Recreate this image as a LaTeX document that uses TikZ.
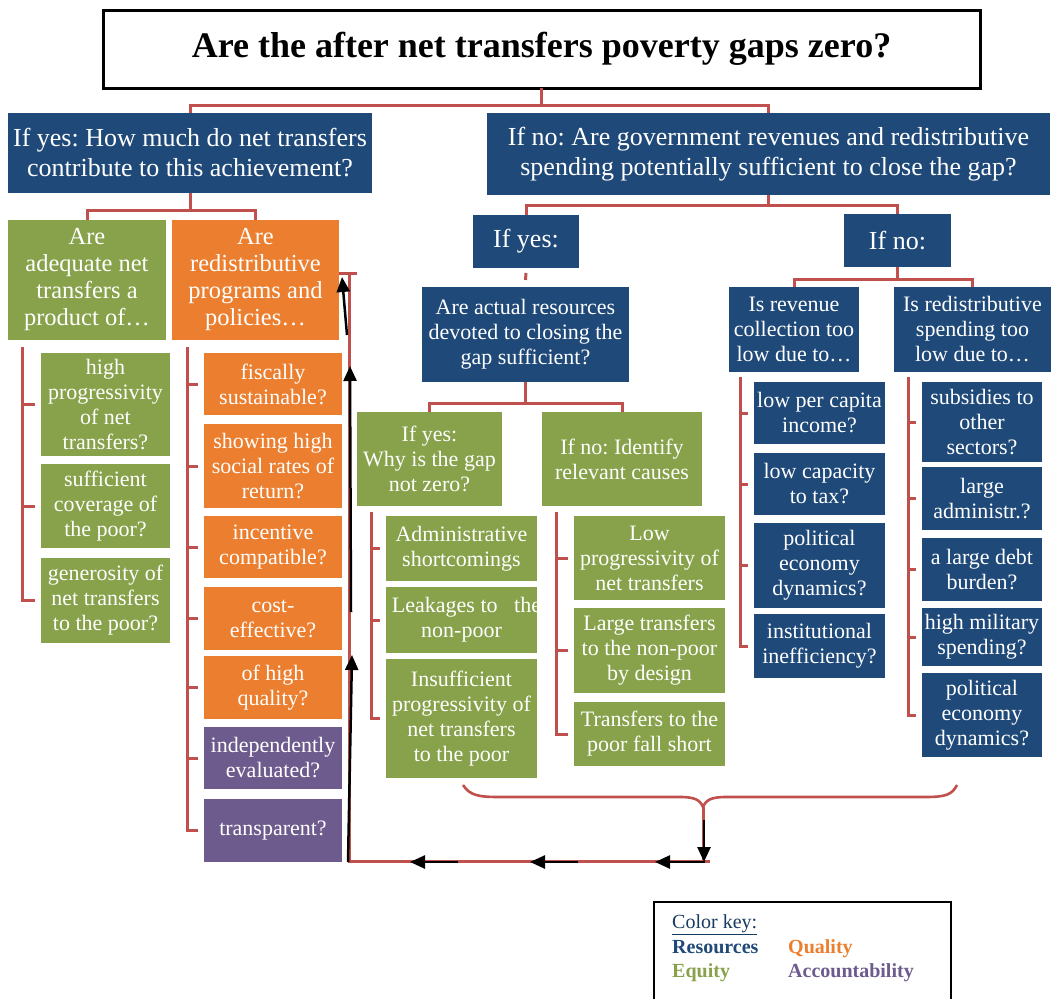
\documentclass[tikz,border=0pt]{standalone}
\usepackage{fontspec}
\setmainfont{Liberation Serif}
\usetikzlibrary{arrows.meta,calc}
\definecolor{navy}{HTML}{1F4978}
\definecolor{grn}{HTML}{87A24A}
\definecolor{orn}{HTML}{EC7F2F}
\definecolor{pur}{HTML}{6E5B8D}
\definecolor{redc}{HTML}{C0504D}
\newcommand\bx[7]{%
  \pgfmathsetmacro\bxw{#4-#2}\pgfmathsetmacro\bxh{#5-#3}%
  \node[#6, minimum width=\bxw pt, minimum height=\bxh pt] (#1) at ({(#2+#4)/2},{(#3+#5)/2}) {};
  \node[#6, fill=none, draw=none, minimum width=0pt, minimum height=0pt] (#1t) at (#1.center) {#7};}
\newcommand\lst[3]{%
  \draw[conn] (#1) |- ($(#2.west)+(-6,0)$);
  \foreach \n in {#3} {\draw[conn] (#1 |- \n.west) -- ($(\n.west)+(-6,0)$);}}
\tikzset{
  box/.style={inner sep=0pt, outer sep=0pt, align=center, text=white, draw=none},
  bigbl/.style={box, fill=navy, font=\fontsize{26}{30}\selectfont},
  midbl/.style={box, fill=navy, font=\fontsize{22}{25}\selectfont},
  bl/.style={box, fill=navy, font=\fontsize{22}{25}\selectfont},
  gr/.style={box, fill=grn, font=\fontsize{22}{25}\selectfont},
  grbig/.style={box, fill=grn, font=\fontsize{24.5}{27}\selectfont},
  orbig/.style={box, fill=orn, font=\fontsize{24.5}{27}\selectfont},
  or/.style={box, fill=orn, font=\fontsize{22}{25}\selectfont},
  pu/.style={box, fill=pur, font=\fontsize{22}{25}\selectfont},
  titlebox/.style={inner sep=0pt, outer sep=0pt, align=center, draw=black, line width=3pt, fill=white, font=\fontsize{36}{40}\selectfont\bfseries},
  conn/.style={draw=redc, line width=3pt},
  blk/.style={draw=black, line width=2.5pt, -{Triangle[length=15pt,width=13pt]}},
  keyt/.style={anchor=base west, inner sep=0pt, font=\fontsize{20}{23}\selectfont\bfseries},
}
\begin{document}
\frenchspacing
\begin{tikzpicture}[x=1pt,y=-1pt]
\path[use as bounding box, clip] (0,0) rectangle (1053,999);
\fill[white] (0,0) rectangle (1053,999);

% title
\node[titlebox, minimum width=877pt, minimum height=78pt] (title) at (541.5,49) {Are the after net transfers poverty gaps zero?};

% level 1
\bx{yesQ}{8}{113}{372}{193}{bigbl}{If yes: How much do net transfers\\contribute to this achievement?}
\bx{noQ}{487}{113}{1050}{195}{bigbl}{If no: Are government revenues and redistributive\\spending potentially sufficient to close the gap?}

% left branch
\bx{gA}{8}{220}{166}{340}{grbig}{Are\\adequate net\\transfers a\\product of\dots}
\bx{oB}{172}{220}{339}{340}{orbig}{Are\\redistributive\\programs and\\policies\dots}

\bx{g1}{41}{353}{170}{456}{gr}{high\\progressivity\\of net\\transfers?}
\bx{g2}{41}{464}{170}{548}{gr}{sufficient\\coverage of\\the poor?}
\bx{g3}{41}{558}{170}{643}{gr}{generosity of\\net transfers\\to the poor?}

\bx{o1}{204}{353}{342}{415}{or}{fiscally\\sustainable?}
\bx{o2}{204}{424}{342}{508}{or}{showing high\\social rates of\\return?}
\bx{o3}{204}{516}{342}{578}{or}{incentive\\compatible?}
\bx{o4}{204}{587}{342}{650}{or}{cost-\\effective?}
\bx{o5}{204}{656}{342}{719}{or}{of high\\quality?}
\bx{p1}{204}{727}{342}{789}{pu}{independently\\evaluated?}
\bx{p2}{204}{799}{342}{862}{pu}{transparent?}

% right branch
\bx{ifyes}{473}{215}{579}{268}{bigbl}{If yes:}
\bx{ifno}{844}{214}{951}{267}{bigbl}{If no:}
\bx{actual}{422}{287}{629}{382}{midbl}{Are actual resources\\devoted to closing the\\gap sufficient?}
\bx{revQ}{729}{287}{859}{372}{midbl}{Is revenue\\collection too\\low due to\dots}
\bx{spendQ}{894}{287}{1051}{372}{midbl}{Is redistributive\\spending too\\low due to\dots}

\bx{whyY}{357}{412}{502}{506}{gr}{If yes:\\Why is the gap\\not zero?}
\bx{idN}{542}{412}{702}{506}{gr}{If no: Identify\\relevant causes}

\bx{y1}{386}{516}{537}{581}{gr}{Administrative\\shortcomings}
\bx{y2}{386}{587}{537}{653}{gr}{\hspace*{10pt}Leakages to\ \ \ the\\non-poor}
\bx{y3}{386}{659}{537}{778}{gr}{Insufficient\\progressivity of\\net transfers\\to the poor}

\bx{n1}{574}{516}{725}{600}{gr}{Low\\progressivity of\\net transfers}
\bx{n2}{574}{608}{725}{693}{gr}{Large transfers\\to the non-poor\\by design}
\bx{n3}{574}{702}{725}{766}{gr}{Transfers to the\\poor fall short}

\bx{r1}{754}{382}{885}{444}{bl}{low per capita\\income?}
\bx{r2}{754}{453}{885}{515}{bl}{low capacity\\to tax?}
\bx{r3}{754}{523}{885}{608}{bl}{political\\economy\\dynamics?}
\bx{r4}{754}{614}{885}{678}{bl}{institutional\\inefficiency?}

\bx{s1}{922}{382}{1042}{462}{bl}{subsidies to\\other\\sectors?}
\bx{s2}{922}{467}{1042}{530}{bl}{large\\administr.?}
\bx{s3}{922}{538}{1042}{601}{bl}{a large debt\\burden?}
\bx{s4}{922}{608}{1042}{666}{bl}{high military\\spending?}
\bx{s5}{922}{673}{1042}{757}{bl}{political\\economy\\dynamics?}

% brackets
\draw[conn] (yesQ.north) -- ++(0,-8) coordinate (t1) -| (noQ.north);
\draw[conn] (title.south) -- (title.south |- t1);
\draw[conn] (gA.north) -- ++(0,-10) coordinate (t2) -| (oB.north);
\draw[conn] (yesQ.south) -- (yesQ.south |- t2);
\draw[conn] (ifyes.north) -- ++(0,-10) coordinate (t3) -| (ifno.north);
\draw[conn] (noQ.south) -- (noQ.south |- t3);
\draw[conn] ($(ifyes.south)+(0,5)$) -- ($(actual.north)+(0,-7)$);
\draw[conn] (revQ.north) -- ++(0,-8) coordinate (t4) -| (spendQ.north);
\draw[conn] (ifno.south) -- (ifno.south |- t4);
\draw[conn] (whyY.north) -- ++(0,-9) coordinate (t5) -| (idN.north);
\draw[conn] (actual.south) -- (actual.south |- t5);

% lists
\coordinate (lg) at (22,347);
\coordinate (lo) at (187,347);
\coordinate (ly) at (371,512);
\coordinate (ln) at (556,512);
\coordinate (lr) at (740,377);
\coordinate (ls) at (908,377);
\lst{lg}{g3}{g1,g2}
\lst{lo}{p2}{o1,o2,o3,o4,o5,p1}
\lst{ly}{y3}{y1,y2}
\lst{ln}{n3}{n1,n2}
\lst{lr}{r4}{r1,r2,r3}
\lst{ls}{s5}{s1,s2,s3,s4}

% brace
\coordinate (braceTip) at (703,807);
\draw[conn, line width=2.6pt] (463,785) .. controls (470,796) and (480,797) .. (500,797) -- (680,797)
  .. controls (695,797) and (700,800) .. (braceTip)
  .. controls (706,800) and (711,797) .. (726,797) -- (925,797)
  .. controls (945,797) and (952,795) .. (957,785);

% feedback path
\coordinate (cornerR) at (703,861);
\coordinate (endR) at (710,861);
\coordinate (cornerL) at (349,861);
\coordinate (cTop) at (349,273);
\draw[conn] (braceTip) -- (cornerR);
\draw[conn] (endR) -- (cornerL) -- (cTop);
\draw[conn] (oB.east |- cTop) -- ++(18,0);

% black arrows
\coordinate (d0) at (704,820);
\coordinate (d1) at (704,862);
\coordinate (h1) at (655,862);
\coordinate (h2s) at (578,862);
\coordinate (h2) at (530,862);
\coordinate (h3s) at (458,862);
\coordinate (h3) at (410,862);
\coordinate (u0) at (348,862);
\coordinate (u1) at (352,655);
\coordinate (u2s) at (351,612);
\coordinate (u2) at (350,366);
\coordinate (u3s) at (347,335);
\coordinate (u3) at (342,277);
\draw[blk] (d0) -- (d1);
\draw[blk, shorten <=-1.2pt] (d1) -- (h1);
\draw[blk] (h2s) -- (h2);
\draw[blk] (h3s) -- (h3);
\draw[blk] (u0) -- (u1);
\draw[blk] (u2s) -- (u2);
\draw[blk] (u3s) -- (u3);

% colour key
\draw[black, line width=2.5pt] (654,902) rectangle (951,1010);
\node[keyt, font=\fontsize{20}{23}\selectfont, text=navy!80!black] (ck) at (672,928) {\underline{Color key:}};
\node[keyt, text=navy] (kres) at (672,953) {Resources};
\node[keyt, text=orn] (kqua) at (788,953) {Quality};
\node[keyt, text=grn] (kequ) at (672,977) {Equity};
\node[keyt, text=pur] (kacc) at (788,977) {Accountability};
\end{tikzpicture}
\end{document}
